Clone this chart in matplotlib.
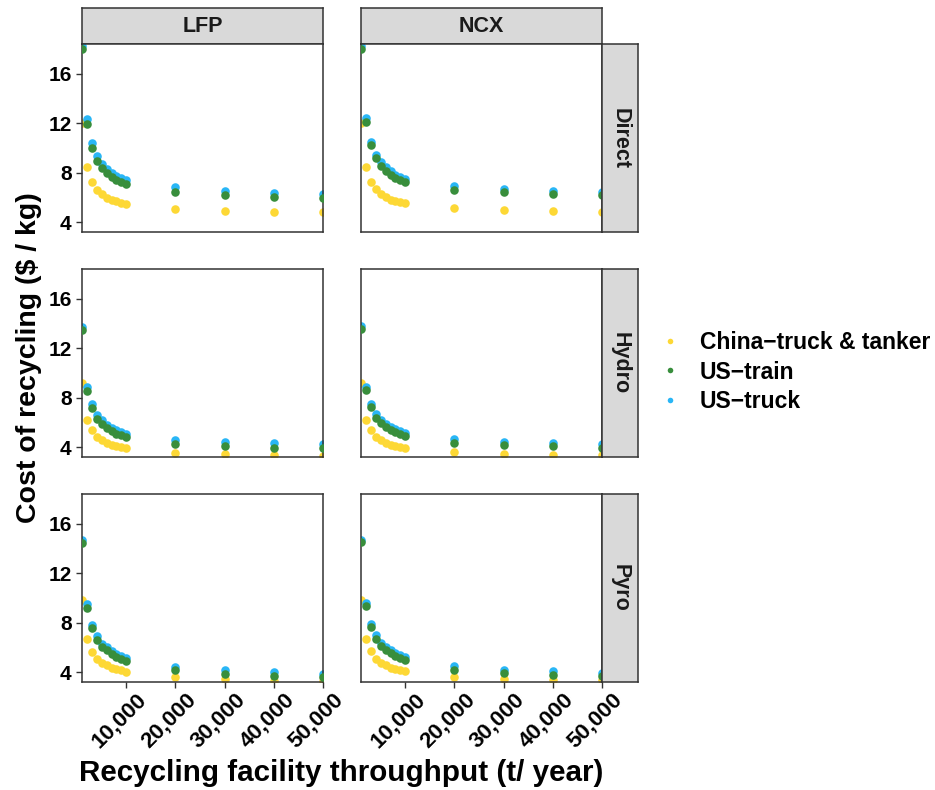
import matplotlib
matplotlib.use("Agg")
import matplotlib.pyplot as plt
import matplotlib.transforms as mtransforms
from matplotlib.lines import Line2D

plt.rcParams['font.family'] = ['Liberation Sans', 'DejaVu Sans']
plt.rcParams['font.weight'] = 'bold'

# throughput (t / year)
throughput = [1000, 2000, 3000, 4000, 5000, 6000, 7000, 8000, 9000, 10000,
              20000, 30000, 40000, 50000]

# LFP ($ / kg)
lfp_direct_china = [12.0, 8.42, 7.24, 6.62, 6.24, 5.97, 5.78, 5.68, 5.57, 5.49, 5.06, 4.92, 4.84, 4.82]
lfp_direct_train = [17.96, 11.91, 10.0, 8.96, 8.37, 7.96, 7.67, 7.42, 7.24, 7.1, 6.43, 6.19, 6.05, 5.97]
lfp_direct_truck = [18.23, 12.32, 10.38, 9.36, 8.69, 8.28, 7.96, 7.75, 7.59, 7.42, 6.81, 6.54, 6.35, 6.3]

lfp_hydro_china = [9.2, 6.16, 5.35, 4.81, 4.54, 4.3, 4.19, 4.06, 3.98, 3.9, 3.55, 3.41, 3.33, 3.3]
lfp_hydro_train = [13.44, 8.53, 7.19, 6.3, 5.84, 5.51, 5.3, 5.08, 4.95, 4.81, 4.22, 4.06, 3.95, 3.9]
lfp_hydro_truck = [13.74, 8.86, 7.51, 6.59, 6.16, 5.76, 5.57, 5.35, 5.22, 5.08, 4.57, 4.41, 4.3, 4.22]

lfp_pyro_china = [9.79, 6.7, 5.62, 5.03, 4.74, 4.55, 4.36, 4.23, 4.15, 4.04, 3.58, 3.42, 3.31, 3.26]
lfp_pyro_train = [14.41, 9.2, 7.56, 6.62, 6.03, 5.76, 5.44, 5.22, 5.03, 4.87, 4.15, 3.88, 3.72, 3.61]
lfp_pyro_truck = [14.68, 9.47, 7.83, 6.89, 6.3, 6.03, 5.68, 5.46, 5.27, 5.14, 4.41, 4.15, 3.98, 3.88]

# NCX ($ / kg)
ncx_direct_china = [12.05, 8.45, 7.26, 6.65, 6.3, 6.03, 5.82, 5.7, 5.6, 5.52, 5.11, 4.95, 4.87, 4.84]
ncx_direct_train = [18.0, 12.13, 10.2, 9.2, 8.55, 8.15, 7.83, 7.59, 7.42, 7.26, 6.62, 6.4, 6.24, 6.19]
ncx_direct_truck = [18.25, 12.45, 10.49, 9.41, 8.82, 8.45, 8.1, 7.83, 7.64, 7.48, 6.89, 6.67, 6.48, 6.4]

ncx_hydro_china = [9.21, 6.16, 5.35, 4.81, 4.54, 4.36, 4.19, 4.09, 4.0, 3.92, 3.57, 3.47, 3.39, 3.33]
ncx_hydro_train = [13.52, 8.61, 7.27, 6.38, 5.97, 5.62, 5.41, 5.22, 5.08, 4.92, 4.36, 4.17, 4.06, 3.95]
ncx_hydro_truck = [13.79, 8.86, 7.51, 6.65, 6.22, 5.84, 5.62, 5.43, 5.3, 5.16, 4.62, 4.44, 4.33, 4.27]

ncx_pyro_china = [9.79, 6.7, 5.68, 5.09, 4.76, 4.55, 4.36, 4.25, 4.15, 4.06, 3.61, 3.47, 3.39, 3.34]
ncx_pyro_train = [14.49, 9.31, 7.64, 6.7, 6.11, 5.81, 5.54, 5.3, 5.14, 4.95, 4.2, 3.96, 3.8, 3.66]
ncx_pyro_truck = [14.68, 9.58, 7.91, 6.97, 6.38, 6.03, 5.76, 5.54, 5.35, 5.22, 4.47, 4.15, 4.06, 3.9]

chemistries = ['LFP', 'NCX']
processes = ['Direct', 'Hydro', 'Pyro']
routes = ['China\u2212truck & tanker', 'US\u2212train', 'US\u2212truck']
colors = {'China': '#FDD835', 'train': '#388E3C', 'truck': '#29B6F6'}

panels = {
    ('LFP', 'Direct'): (lfp_direct_china, lfp_direct_train, lfp_direct_truck),
    ('LFP', 'Hydro'): (lfp_hydro_china, lfp_hydro_train, lfp_hydro_truck),
    ('LFP', 'Pyro'): (lfp_pyro_china, lfp_pyro_train, lfp_pyro_truck),
    ('NCX', 'Direct'): (ncx_direct_china, ncx_direct_train, ncx_direct_truck),
    ('NCX', 'Hydro'): (ncx_hydro_china, ncx_hydro_train, ncx_hydro_truck),
    ('NCX', 'Pyro'): (ncx_pyro_china, ncx_pyro_train, ncx_pyro_truck),
}

W, H = 935, 790
fig = plt.figure(figsize=(9.35, 7.9), dpi=100)

col_left = [82, 361]
col_w = 241
row_top = [44, 269, 494]
row_h = 188
strip = 36
edge = '#333333'
strip_fill = '#D9D9D9'

# nudge rotated x tick labels like ggplot's hjust/vjust placement
xlab_shift = mtransforms.ScaledTranslation(10 / 100, 3 / 100, fig.dpi_scale_trans)


def frac(x, y, w, h):
    return [x / W, 1 - (y + h) / H, w / W, h / H]


for j, chem in enumerate(chemistries):
    # top strip
    sax = fig.add_axes(frac(col_left[j], row_top[0] - strip, col_w, strip))
    sax.set_facecolor(strip_fill)
    sax.set_xticks([]); sax.set_yticks([])
    for s in sax.spines.values():
        s.set_color(edge); s.set_linewidth(1.1)
    sax.text(0.5, 0.5, chem, ha='center', va='center', fontsize=15.5,
             fontweight='bold', color='#1A1A1A', transform=sax.transAxes)

    for i, proc in enumerate(processes):
        ax = fig.add_axes(frac(col_left[j], row_top[i], col_w, row_h))
        china, train, truck = panels[(chem, proc)]
        ax.scatter(throughput, truck, s=38, color=colors['truck'], lw=0, zorder=2)
        ax.scatter(throughput, train, s=38, color=colors['train'], lw=0, zorder=3)
        ax.scatter(throughput, china, s=38, color=colors['China'], lw=0, zorder=1)
        ax.set_xlim(1000, 50000)
        ax.set_ylim(3.2, 18.4)
        ax.set_yticks([4, 8, 12, 16])
        ax.set_xticks([10000, 20000, 30000, 40000, 50000])
        for s in ax.spines.values():
            s.set_color(edge); s.set_linewidth(1.1)
        ax.tick_params(length=4, width=1, color=edge, labelsize=15,
                       labelcolor='black')
        if j == 0:
            ax.set_yticklabels(['4', '8', '12', '16'], fontweight='bold')
        else:
            ax.tick_params(axis='y', length=0, labelleft=False)
        if i == 2:
            ax.set_xticklabels(['10,000', '20,000', '30,000', '40,000', '50,000'],
                               rotation=45, ha='right', va='top',
                               rotation_mode='anchor', fontweight='bold',
                               fontsize=16)
            for lab in ax.get_xticklabels():
                lab.set_transform(lab.get_transform() + xlab_shift)
        else:
            ax.tick_params(axis='x', length=0, labelbottom=False)

        if j == 1:
            rax = fig.add_axes(frac(col_left[j] + col_w, row_top[i], strip, row_h))
            rax.set_facecolor(strip_fill)
            rax.set_xticks([]); rax.set_yticks([])
            for s in rax.spines.values():
                s.set_color(edge); s.set_linewidth(1.1)
            rax.text(0.5, 0.5, proc, ha='center', va='center', rotation=-90,
                     fontsize=15.5, fontweight='bold', color='#1A1A1A',
                     transform=rax.transAxes)

fig.text(29 / W, 1 - 358 / H, 'Cost of recycling ($ / kg)', rotation=90,
         ha='center', va='center', fontsize=20.5, fontweight='bold')
fig.text(341 / W, 1 - 773 / H, 'Recycling facility throughput (t/ year)',
         ha='center', va='center', fontsize=21.3, fontweight='bold')

handles = [Line2D([], [], marker='o', ls='', markersize=4, color=colors[k],
                  markeredgewidth=0) for k in ['China', 'train', 'truck']]
fig.legend(handles, routes, loc='center left',
           bbox_to_anchor=(638 / W, 1 - 372 / H), frameon=False,
           prop={'size': 16.5, 'weight': 'bold'}, handletextpad=0.8,
           labelspacing=0.3, handlelength=1.0)

fig.savefig('out.png', dpi=100)
